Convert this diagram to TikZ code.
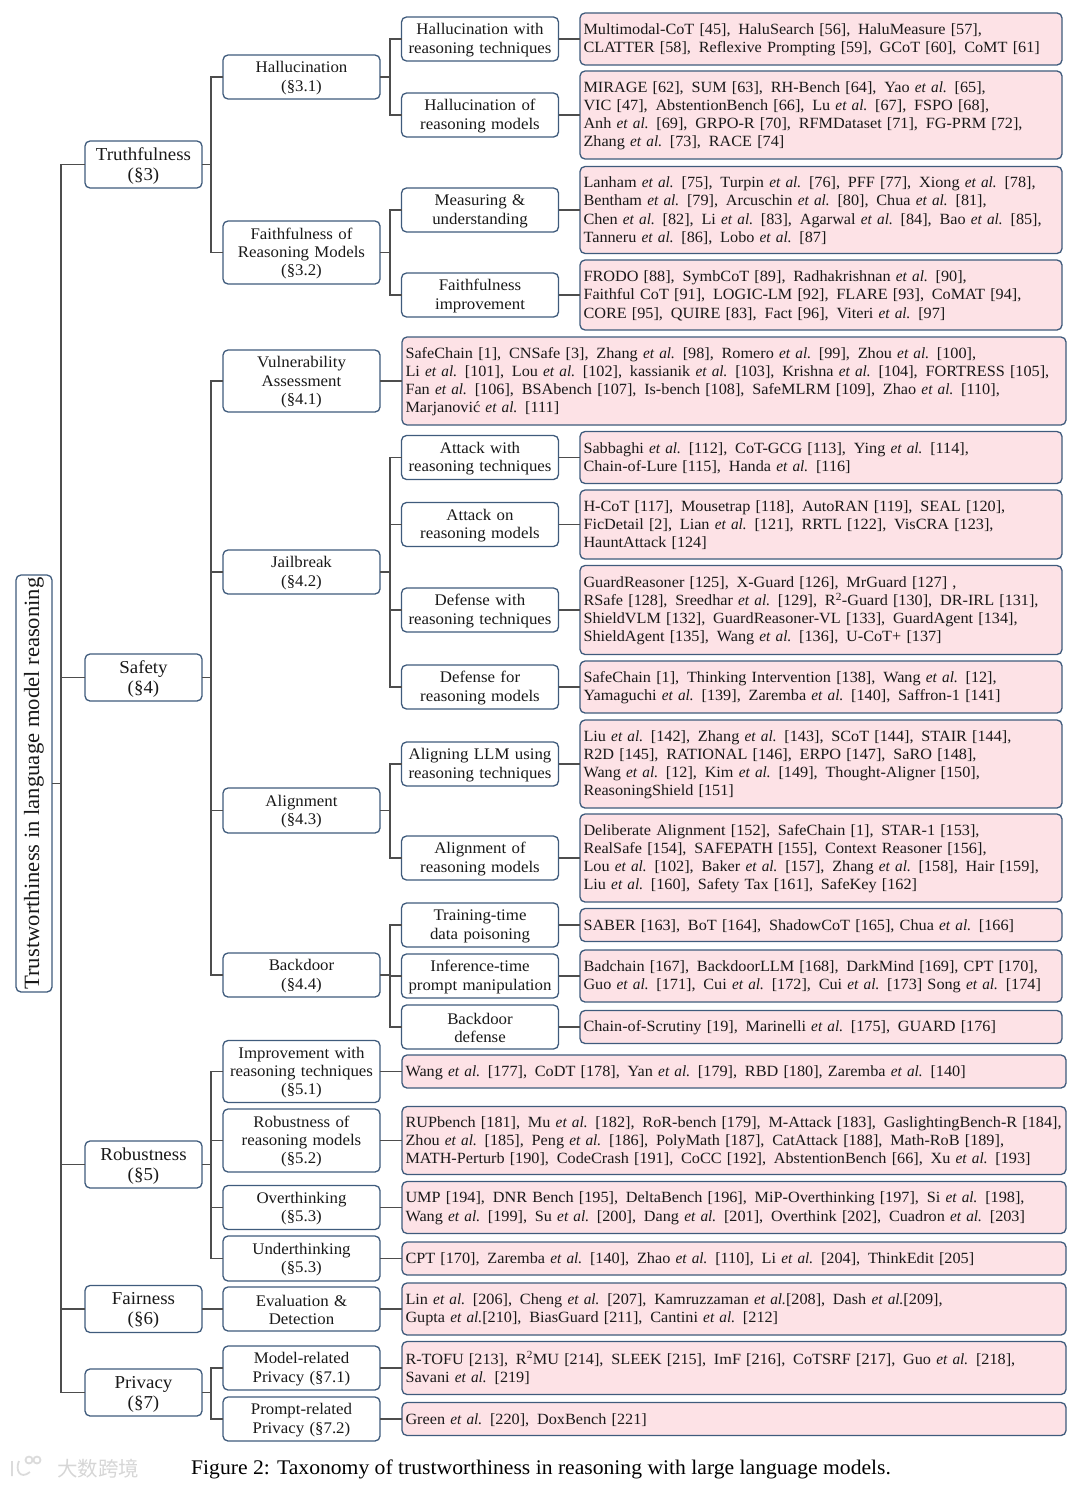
\documentclass[tikz,border=0pt]{standalone}
\usepackage{fontspec}
\setmainfont[FakeStretch=1.04,ItalicFeatures={FakeStretch=0.98}]{Liberation Serif}
\newfontfamily\cjk{Noto Sans CJK SC}
\newcommand{\ea}{\textit{et al.}}
\newcommand{\gp}{\hspace{0.5em}}
\definecolor{boxblue}{HTML}{3F5B7C}
\definecolor{conncol}{HTML}{4D4D4D}
\definecolor{leafpink}{HTML}{FDE2E6}
\tikzset{
  base/.style={draw=boxblue,line width=1.3pt,rounded corners=5pt,inner sep=0pt,outer sep=0pt,text=black!90},
  rootbox/.style={base,fill=white,font=\fontsize{21.8}{24}\selectfont,rotate=90,minimum width=417pt,minimum height=36pt},
  lone/.style={base,fill=white,font=\fontsize{18.2}{20}\selectfont,align=center,text width=117pt,minimum height=47pt,execute at begin node={\rule{0pt}{15pt}}},
  mid/.style={base,fill=white,font=\fontsize{16.2}{18.3}\selectfont,align=center,text width=157pt,execute at begin node={\rule{0pt}{13.5pt}}},
  leafa/.style={base,fill=leafpink,font=\fontsize{15.6}{18.2}\selectfont,align=left,text width=475pt,inner xsep=3.5pt,execute at begin node={\rule{0pt}{12.5pt}}},
  leafb/.style={base,fill=leafpink,font=\fontsize{15.6}{18.2}\selectfont,align=left,text width=657pt,inner xsep=3.5pt,execute at begin node={\rule{0pt}{12.5pt}}},
  conn/.style={draw=conncol,line width=1.7pt},
  captiontext/.style={font=\fontsize{20.8}{24}\selectfont,inner sep=0pt,anchor=west},
  wm/.style={font=\cjk\fontsize{20.5}{24}\selectfont,text=black!16,inner sep=0pt,anchor=west},
  wmline/.style={draw=black!14,line width=1.8pt}
}
\begin{document}
\begin{tikzpicture}[x=1pt,y=-1pt]
\useasboundingbox (0,0) rectangle (1080,1488);
% root
\node[rootbox] (root) at (34,783.5) {Trustworthiness in language model reasoning};
% level 1
\node[lone] (tru) at (143.5,164.5) {Truthfulness\\(§3)};
\node[lone] (saf) at (143.5,677.5) {Safety\\(§4)};
\node[lone] (rob) at (143.5,1164.5) {Robustness\\(§5)};
\node[lone] (fai) at (143.5,1309) {Fairness\\(§6)};
\node[lone] (pri) at (143.5,1392.5) {Privacy\\(§7)};
% level 2
\node[mid,minimum height=44pt] (hal) at (301.5,77) {Hallucination\\(§3.1)};
\node[mid,minimum height=63pt] (fmo) at (301.5,252.5) {Faithfulness of\\Reasoning Models\\(§3.2)};
\node[mid,minimum height=62pt] (vul) at (301.5,381) {Vulnerability\\Assessment\\(§4.1)};
\node[mid,minimum height=44pt] (jai) at (301.5,572) {Jailbreak\\(§4.2)};
\node[mid,minimum height=45pt] (ali) at (301.5,810.5) {Alignment\\(§4.3)};
\node[mid,minimum height=44pt] (bac) at (301.5,975) {Backdoor\\(§4.4)};
\node[mid,minimum height=62pt] (imp) at (301.5,1071.5) {Improvement with\\reasoning techniques\\(§5.1)};
\node[mid,minimum height=63pt] (rbm) at (301.5,1140.5) {Robustness of\\reasoning models\\(§5.2)};
\node[mid,minimum height=44pt] (ove) at (301.5,1207.5) {Overthinking\\(§5.3)};
\node[mid,minimum height=45pt] (und) at (301.5,1258.5) {Underthinking\\(§5.3)};
\node[mid,minimum height=44pt] (eva) at (301.5,1309) {Evaluation \&\\Detection};
\node[mid,minimum height=44pt] (mrp) at (301.5,1368) {Model-related\\Privacy (§7.1)};
\node[mid,minimum height=44pt] (prp) at (301.5,1419) {Prompt-related\\Privacy (§7.2)};
% level 3
\node[mid,minimum height=44pt] (hw) at (480,39) {Hallucination with\\reasoning techniques};
\node[mid,minimum height=44pt] (hm) at (480,115) {Hallucination of\\reasoning models};
\node[mid,minimum height=44pt] (mu) at (480,210) {Measuring \&\\understanding};
\node[mid,minimum height=44pt] (fi) at (480,295) {Faithfulness\\improvement};
\node[mid,minimum height=44pt] (aw) at (480,457.5) {Attack with\\reasoning techniques};
\node[mid,minimum height=44pt] (am) at (480,524.5) {Attack on\\reasoning models};
\node[mid,minimum height=44pt] (dw) at (480,610) {Defense with\\reasoning techniques};
\node[mid,minimum height=44pt] (dm) at (480,687) {Defense for\\reasoning models};
\node[mid,minimum height=44pt] (al) at (480,764) {Aligning LLM using\\reasoning techniques};
\node[mid,minimum height=44pt] (am2) at (480,858) {Alignment of\\reasoning models};
\node[mid,minimum height=44pt] (tr) at (480,925) {Training-time\\data poisoning};
\node[mid,minimum height=44pt] (in) at (480,976) {Inference-time\\prompt manipulation};
\node[mid,minimum height=44pt] (bd) at (480,1027) {Backdoor\\defense};
% leaves, inner column
\node[leafa,minimum height=52pt] (l1) at (821,39) {Multimodal-CoT [45],\gp HaluSearch [56],\gp HaluMeasure [57],\\CLATTER [58],\gp Reflexive Prompting [59],\gp GCoT [60],\gp CoMT [61]};
\node[leafa,minimum height=88pt] (l2) at (821,115) {MIRAGE [62],\gp SUM [63],\gp RH-Bench [64],\gp Yao \ea{} [65],\\VIC [47],\gp AbstentionBench [66],\gp Lu \ea{} [67],\gp FSPO [68],\\Anh \ea{} [69],\gp GRPO-R [70],\gp RFMDataset [71],\gp FG-PRM [72],\\Zhang \ea{} [73],\gp RACE [74]};
\node[leafa,minimum height=87pt] (l3) at (821,210) {Lanham \ea{} [75],\gp Turpin \ea{} [76],\gp PFF [77],\gp Xiong \ea{} [78],\\Bentham \ea{} [79],\gp Arcuschin \ea{} [80],\gp Chua \ea{} [81],\\Chen \ea{} [82],\gp Li \ea{} [83],\gp Agarwal \ea{} [84],\gp Bao \ea{} [85],\\Tanneru \ea{} [86],\gp Lobo \ea{} [87]};
\node[leafa,minimum height=70pt] (l4) at (821,295) {FRODO [88],\gp SymbCoT [89],\gp Radhakrishnan \ea{} [90],\\Faithful CoT [91],\gp LOGIC-LM [92],\gp FLARE [93],\gp CoMAT [94],\\CORE [95],\gp QUIRE [83],\gp Fact [96],\gp Viteri \ea{} [97]};
\node[leafb,minimum height=88pt] (l5) at (734,381) {SafeChain [1],\gp CNSafe [3],\gp Zhang \ea{} [98],\gp Romero \ea{} [99],\gp Zhou \ea{} [100],\\Li \ea{} [101],\gp Lou \ea{} [102],\gp kassianik \ea{} [103],\gp Krishna \ea{} [104],\gp FORTRESS [105],\\Fan \ea{} [106],\gp BSAbench [107],\gp Is-bench [108],\gp SafeMLRM [109],\gp Zhao \ea{} [110],\\Marjanović \ea{} [111]};
\node[leafa,minimum height=52pt] (l6) at (821,457.5) {Sabbaghi \ea{} [112],\gp CoT-GCG [113],\gp Ying \ea{} [114],\\Chain-of-Lure [115],\gp Handa \ea{} [116]};
\node[leafa,minimum height=69pt] (l7) at (821,524.5) {H-CoT [117],\gp Mousetrap [118],\gp AutoRAN [119],\gp SEAL [120],\\FicDetail [2],\gp Lian \ea{} [121],\gp RRTL [122],\gp VisCRA [123],\\HauntAttack [124]};
\node[leafa,minimum height=89pt] (l8) at (821,610) {GuardReasoner [125],\gp X-Guard [126],\gp MrGuard [127] ,\\RSafe [128],\gp Sreedhar \ea{} [129],\gp R\textsuperscript{2}-Guard [130],\gp DR-IRL [131],\\ShieldVLM [132],\gp GuardReasoner-VL [133],\gp GuardAgent [134],\\ShieldAgent [135],\gp Wang \ea{} [136],\gp U-CoT+ [137]};
\node[leafa,minimum height=52pt] (l9) at (821,687) {SafeChain [1],\gp Thinking Intervention [138],\gp Wang \ea{} [12],\\Yamaguchi \ea{} [139],\gp Zaremba \ea{} [140],\gp Saffron-1 [141]};
\node[leafa,minimum height=88pt] (l10) at (821,764) {Liu \ea{} [142],\gp Zhang \ea{} [143],\gp SCoT [144],\gp STAIR [144],\\R2D [145],\gp RATIONAL [146],\gp ERPO [147],\gp SaRO [148],\\Wang \ea{} [12],\gp Kim \ea{} [149],\gp Thought-Aligner [150],\\ReasoningShield [151]};
\node[leafa,minimum height=88pt] (l11) at (821,858) {Deliberate Alignment [152],\gp SafeChain [1],\gp STAR-1 [153],\\RealSafe [154],\gp SAFEPATH [155],\gp Context Reasoner [156],\\Lou \ea{} [102],\gp Baker \ea{} [157],\gp Zhang \ea{} [158],\gp Hair [159],\\Liu \ea{} [160],\gp Safety Tax [161],\gp SafeKey [162]};
\node[leafa,minimum height=33pt] (l12) at (821,925) {SABER [163],\gp BoT [164],\gp ShadowCoT [165], Chua \ea{} [166]};
\node[leafa,minimum height=52pt] (l13) at (821,976) {Badchain [167],\gp BackdoorLLM [168],\gp DarkMind [169], CPT [170],\\Guo \ea{} [171],\gp Cui \ea{} [172],\gp Cui \ea{} [173] Song \ea{} [174]};
\node[leafa,minimum height=33pt] (l14) at (821,1027) {Chain-of-Scrutiny [19],\gp Marinelli \ea{} [175],\gp GUARD [176]};
% leaves, wide column
\node[leafb,minimum height=33pt] (l15) at (734,1071.5) {Wang \ea{} [177],\gp CoDT [178],\gp Yan \ea{} [179],\gp RBD [180], Zaremba \ea{} [140]};
\node[leafb,minimum height=68pt] (l16) at (734,1140.5) {RUPbench [181],\gp Mu \ea{} [182],\gp RoR-bench [179],\gp M-Attack [183],\gp GaslightingBench-R [184],\\Zhou \ea{} [185],\gp Peng \ea{} [186],\gp PolyMath [187],\gp CatAttack [188],\gp Math-RoB [189],\\MATH-Perturb [190],\gp CodeCrash [191],\gp CoCC [192],\gp AbstentionBench [66],\gp Xu \ea{} [193]};
\node[leafb,minimum height=52pt] (l17) at (734,1207.5) {UMP [194],\gp DNR Bench [195],\gp DeltaBench [196],\gp MiP-Overthinking [197],\gp Si \ea{} [198],\\Wang \ea{} [199],\gp Su \ea{} [200],\gp Dang \ea{} [201],\gp Overthink [202],\gp Cuadron \ea{} [203]};
\node[leafb,minimum height=33pt] (l18) at (734,1258.5) {CPT [170],\gp Zaremba \ea{} [140],\gp Zhao \ea{} [110],\gp Li \ea{} [204],\gp ThinkEdit [205]};
\node[leafb,minimum height=52pt] (l19) at (734,1309) {Lin \ea{} [206],\gp Cheng \ea{} [207],\gp Kamruzzaman \ea{}[208],\gp Dash \ea{}[209],\\Gupta \ea{}[210],\gp BiasGuard [211],\gp Cantini \ea{} [212]};
\node[leafb,minimum height=53pt] (l20) at (734,1368) {R-TOFU [213],\gp R\textsuperscript{2}MU [214],\gp SLEEK [215],\gp ImF [216],\gp CoTSRF [217],\gp Guo \ea{} [218],\\Savani \ea{} [219]};
\node[leafb,minimum height=33pt] (l21) at (734,1419) {Green \ea{} [220],\gp DoxBench [221]};
% connectors
\foreach \c in {tru,saf,rob,fai,pri} \draw[conn] (root.south) -- ++(9,0) |- (\c.west);
\foreach \c in {hal,fmo} \draw[conn] (tru.east) -- ++(9,0) |- (\c.west);
\foreach \c in {vul,jai,ali,bac} \draw[conn] (saf.east) -- ++(9,0) |- (\c.west);
\foreach \c in {imp,rbm,ove,und} \draw[conn] (rob.east) -- ++(9,0) |- (\c.west);
\draw[conn] (fai.east) -- (eva.west);
\foreach \c in {mrp,prp} \draw[conn] (pri.east) -- ++(9,0) |- (\c.west);
\foreach \c in {hw,hm} \draw[conn] (hal.east) -- ++(10,0) |- (\c.west);
\foreach \c in {mu,fi} \draw[conn] (fmo.east) -- ++(10,0) |- (\c.west);
\foreach \c in {aw,am,dw,dm} \draw[conn] (jai.east) -- ++(10,0) |- (\c.west);
\foreach \c in {al,am2} \draw[conn] (ali.east) -- ++(10,0) |- (\c.west);
\foreach \c in {tr,in,bd} \draw[conn] (bac.east) -- ++(10,0) |- (\c.west);
\foreach \a/\b in {hw/l1,hm/l2,mu/l3,fi/l4,vul/l5,aw/l6,am/l7,dw/l8,dm/l9,al/l10,am2/l11,tr/l12,in/l13,bd/l14,imp/l15,rbm/l16,ove/l17,und/l18,eva/l19,mrp/l20,prp/l21} \draw[conn] (\a.east) -- (\b.west);
% caption
\node[captiontext] (caption) at (191,1469) {Figure 2: Taxonomy of trustworthiness in reasoning with large language models.};
% watermark
\node[wm] (mark) at (57,1468.5) {大数跨境};
\draw[wmline] (12,1461) -- (12,1476) (19,1461) .. controls (15,1470) and (20,1480) .. (30,1472);
\draw[wmline] (29,1460) circle (3.5pt) (37,1460) circle (3.5pt);
\end{tikzpicture}
\end{document}
